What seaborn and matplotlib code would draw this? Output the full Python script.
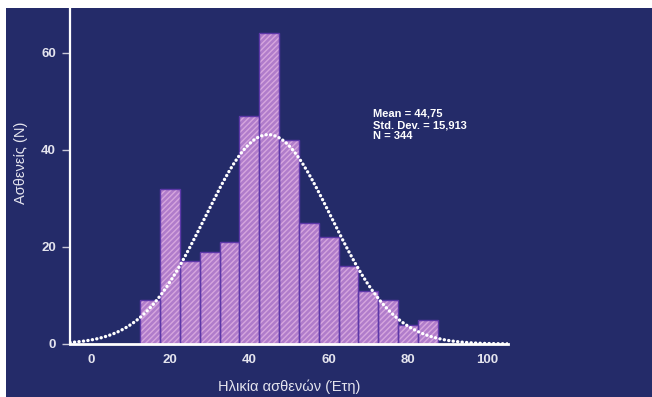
import numpy as np
import pandas as pd
import matplotlib
matplotlib.use('Agg')
import matplotlib.pyplot as plt
import seaborn as sns
from matplotlib.patches import Rectangle

# ---------------- data ----------------
age_mid = [15, 20, 25, 30, 35, 40, 45, 50, 55, 60, 65, 70, 75, 80, 85]
patients = [9, 32, 17, 19, 21, 47, 64, 42, 25, 22, 16, 11, 9, 4, 5]
mean_age = 44.75
sd_age = 15.913
n_total = 344
bin_w = 5
x_ticks = [0, 20, 40, 60, 80, 100]
y_ticks = [0, 20, 40, 60]

df = pd.DataFrame({'age': age_mid, 'n': patients})

navy = '#242b69'
face = '#b07ccb'
hatch_col = '#d6a6de'
edge = '#5d38a8'
txt = '#e4e4ee'

sns.set_style('white')
plt.rcParams['font.family'] = ['Liberation Sans', 'DejaVu Sans']
plt.rcParams['hatch.linewidth'] = 1.0

fig = plt.figure(figsize=(6.52, 3.97), dpi=100, facecolor='white')
fig.patches.append(Rectangle((6 / 652, 0), 1, (397 - 8) / 397, transform=fig.transFigure,
                             facecolor=navy, edgecolor='none', zorder=-5))
ax = fig.add_axes([70 / 652, 53 / 397, (508 - 70) / 652, (389 - 53) / 397])
ax.set_facecolor(navy)
ax.set_zorder(2)

# hatched fill
sns.histplot(data=df, x='age', weights='n', binwidth=bin_w, binrange=(12.5, 87.5),
             color=face, alpha=1, edgecolor=hatch_col, linewidth=0, ax=ax)
for p in ax.patches:
    p.set_hatch('//////')
    p.set_facecolor(face)
    p.set_edgecolor(hatch_col)
    p.set_linewidth(0)
# bar outlines
sns.histplot(data=df, x='age', weights='n', binwidth=bin_w, binrange=(12.5, 87.5),
             fill=False, color=edge, linewidth=1.0, ax=ax)

# fitted normal curve from the stated statistics
xs = np.linspace(-5.3, 105.3, 300)
ys = n_total * bin_w / (sd_age * np.sqrt(2 * np.pi)) * np.exp(-0.5 * ((xs - mean_age) / sd_age) ** 2)
sns.lineplot(x=xs, y=ys, color='white', linewidth=2.4, ax=ax,
             linestyle=(0, (0.05, 1.3)))
ax.lines[-1].set_dash_capstyle('round')

ax.set_xlim(-5.3, 105.3)
ax.set_ylim(0, 69.2)
ax.set_xticks(x_ticks)
ax.set_yticks(y_ticks)
ax.tick_params(axis='x', length=0, pad=7, labelsize=9.5, labelcolor=txt)
ax.tick_params(axis='y', length=6, width=1, color='#c8c8d8', pad=4, labelsize=9.5, labelcolor=txt, left=True)
for lab in ax.get_xticklabels() + ax.get_yticklabels():
    lab.set_fontweight('bold')

for s in ['top', 'right']:
    ax.spines[s].set_visible(False)
ax.spines['left'].set_color('white')
ax.spines['left'].set_linewidth(1.6)
ax.spines['bottom'].set_color('white')
ax.spines['bottom'].set_linewidth(2)

ax.set_xlabel('Ηλικία ασθενών (Έτη)', color=txt, fontsize=10.5, labelpad=10)
ax.set_ylabel('Ασθενείς (Ν)', color=txt, fontsize=10.5)
ax.yaxis.set_label_coords(-0.096, 0.54)

ax.text(71.2, 48.4, 'Mean = 44,75\nStd. Dev. = 15,913\nN = 344', color='white',
        fontsize=8, fontweight='bold', va='top', ha='left', linespacing=1.15)

fig.savefig('out.png', dpi=100, facecolor=fig.get_facecolor())
